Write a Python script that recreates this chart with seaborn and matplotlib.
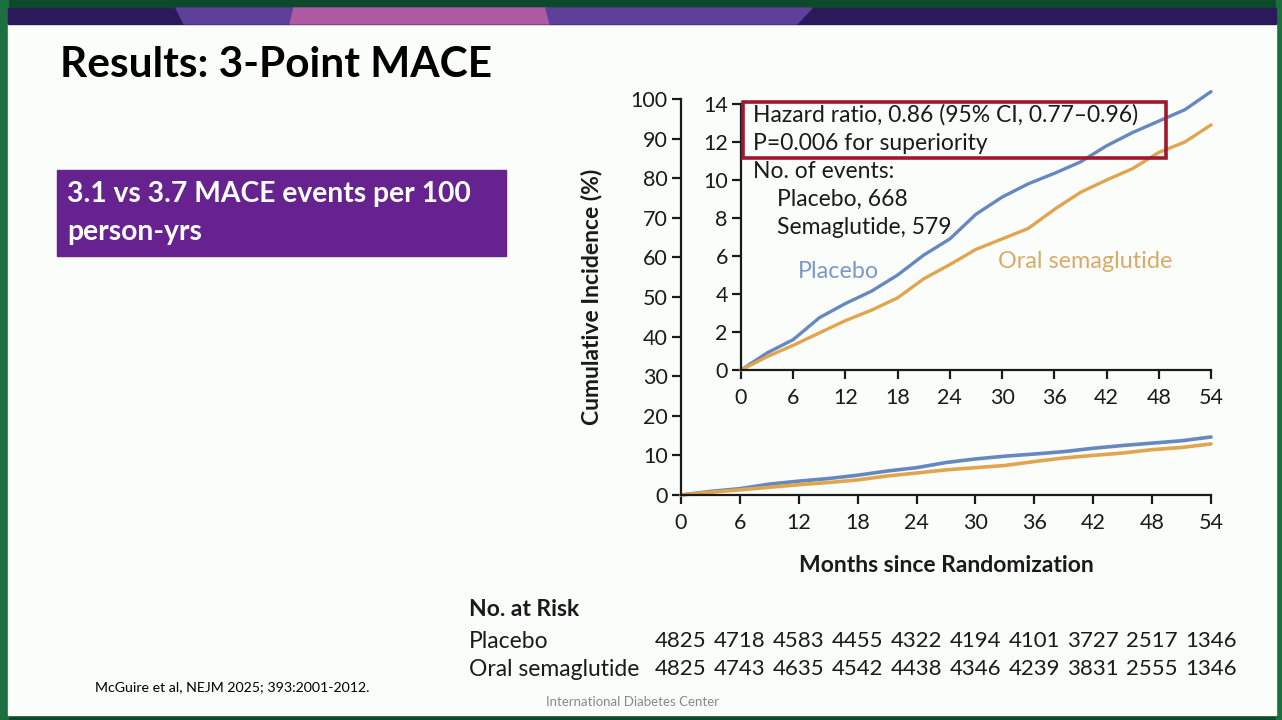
import numpy as np
import pandas as pd
import matplotlib
matplotlib.use("Agg")
import matplotlib.pyplot as plt
import matplotlib.transforms as mtransforms
from matplotlib.patches import Rectangle, Polygon
import seaborn as sns

# ---------------- data ----------------
months = [0, 3, 6, 9, 12, 15, 18, 21, 24, 27, 30, 33, 36, 39, 42, 45, 48, 51, 54]
placebo = [0, 0.9, 1.6, 2.75, 3.5, 4.15, 5.0, 6.05, 6.9, 8.2, 9.1, 9.8, 10.35,
           10.95, 11.8, 12.5, 13.1, 13.7, 14.65]
semaglutide = [0, 0.7, 1.3, 1.95, 2.6, 3.15, 3.8, 4.8, 5.55, 6.35, 6.9, 7.45, 8.45,
               9.35, 10.0, 10.6, 11.45, 12.0, 12.9]
group_names = ["Placebo", "Oral semaglutide"]

risk_months = [0, 6, 12, 18, 24, 30, 36, 42, 48, 54]
risk_placebo = [4825, 4718, 4583, 4455, 4322, 4194, 4101, 3727, 2517, 1346]
risk_sema = [4825, 4743, 4635, 4542, 4438, 4346, 4239, 3831, 2555, 1346]

main_yticks = [0, 10, 20, 30, 40, 50, 60, 70, 80, 90, 100]
inset_yticks = [0, 2, 4, 6, 8, 10, 12, 14]
xticks = [0, 6, 12, 18, 24, 30, 36, 42, 48, 54]

df = pd.DataFrame({
    "month": months + months,
    "value": placebo + semaglutide,
    "group": [group_names[0]] * len(months) + [group_names[1]] * len(months),
})

# ---------------- style ----------------
sns.set_theme(style="ticks")
plt.rcParams["font.family"] = ["Lato", "DejaVu Sans"]

BLUE = "#6688be"
ORANGE = "#e0a54e"
INK = "#1a1a1a"
palette = {group_names[0]: BLUE, group_names[1]: ORANGE}

W, H = 1282, 720
fig = plt.figure(figsize=(W / 100, H / 100), dpi=100, facecolor="#0c4a2b")


def fx(x):
    return x / W


def fy(y):
    return 1 - y / H


def bg_rect(x0, y0, x1, y1, col, z=-5):
    fig.patches.append(Rectangle((fx(x0), fy(y1)), (x1 - x0) / W, (y1 - y0) / H,
                                 transform=fig.transFigure, color=col, zorder=z))


# slide frame
bg_rect(0, 0, 8, 720, "#1c7040")
bg_rect(1276, 0, 1282, 720, "#1c7040")
bg_rect(8, 24, 1276, 715, "#fbfdfb")
bg_rect(8, 8, 1276, 24, "#2a1a5a")
for pts, col in [
    ([(176, 8), (294, 8), (290, 24), (184, 24)], "#5e3f99"),
    ([(294, 8), (546, 8), (550, 24), (290, 24)], "#ae5aa2"),
    ([(546, 8), (812, 8), (797, 24), (550, 24)], "#5e3f99"),
]:
    fig.patches.append(Polygon([(fx(a), fy(b)) for a, b in pts], closed=True,
                               transform=fig.transFigure, color=col, zorder=-4))

# title and left panel
fig.text(fx(60), fy(65), "Results: 3-Point MACE", fontsize=30.5, fontweight="bold",
         color="black", ha="left", va="center")
bg_rect(57, 170, 506, 256, "#66238f", z=-3)
fig.text(fx(67), fy(194), "3.1 vs 3.7 MACE events per 100", fontsize=20.3,
         fontweight="bold", color="white", ha="left", va="center")
fig.text(fx(67), fy(232), "person-yrs", fontsize=20.3, fontweight="bold",
         color="white", ha="left", va="center")
fig.text(fx(95), fy(687), "McGuire et al, NEJM 2025; 393:2001-2012.", fontsize=10.2,
         color="black", ha="left", va="center")
fig.text(fx(633), fy(702), "International Diabetes Center", fontsize=9.5,
         color="#888888", ha="center", va="center")

# ---------------- main axes ----------------
ax = fig.add_axes([fx(681), fy(495), (1211 - 681) / W, (495 - 99) / H])
ax.set_facecolor("none")
sns.lineplot(data=df, x="month", y="value", hue="group", palette=palette,
             estimator=None, legend=False, linewidth=2.6, ax=ax)
for ln in ax.lines:
    ln.set_clip_on(False)
ax.set_xlim(0, 54)
ax.set_ylim(0, 100)
ax.set_xticks(xticks)
ax.set_yticks(main_yticks)
ax.tick_params(axis="both", direction="out", length=6.5, width=1.6, labelsize=15.5,
               colors=INK, pad=3)
ax.tick_params(axis="x", pad=6.5)
for s in ["top", "right"]:
    ax.spines[s].set_visible(False)
for s in ["left", "bottom"]:
    ax.spines[s].set_linewidth(1.6)
    ax.spines[s].set_color(INK)
ax.set_ylabel("Cumulative Incidence (%)", fontsize=16.5, fontweight="bold",
              color=INK, va="center")
ax.yaxis.set_label_coords((592 - 681) / 530, 0.5)
ax.set_xlabel("Months since Randomization", fontsize=16.5, fontweight="bold",
              color=INK, va="center")
ax.xaxis.set_label_coords(0.5, -(565 - 495) / 396)

# ---------------- inset ----------------
ax2 = fig.add_axes([fx(741), fy(370), 470 / W, 266 / H])
ax2.set_facecolor("none")
sns.lineplot(data=df, x="month", y="value", hue="group", palette=palette,
             estimator=None, legend=False, linewidth=2.4, ax=ax2)
for ln in ax2.lines:
    ln.set_clip_on(False)
ax2.set_xlim(0, 54)
ax2.set_ylim(0, 14)
ax2.set_xticks(xticks)
ax2.set_yticks(inset_yticks)
ax2.tick_params(axis="both", direction="out", length=6.5, width=1.6, labelsize=15.5,
                colors=INK, pad=3)
ax2.tick_params(axis="x", pad=6.5)
for s in ["top", "right"]:
    ax2.spines[s].set_visible(False)
for s in ["left", "bottom"]:
    ax2.spines[s].set_linewidth(1.6)
    ax2.spines[s].set_color(INK)
ax2.set_xlabel("")
ax2.set_ylabel("")

# inset annotations
fig.patches.append(Rectangle((fx(743), fy(158)), (1166 - 743) / W, (158 - 102) / H,
                             transform=fig.transFigure, fill=False,
                             edgecolor="#a0182e", linewidth=2.6, zorder=5))
txt_kw = dict(fontsize=16.5, color=INK, ha="left", va="center")
fig.text(fx(753), fy(115), "Hazard ratio, 0.86 (95% CI, 0.77\u20130.96)", **txt_kw)
fig.text(fx(753), fy(143), "P=0.006 for superiority", **txt_kw)
fig.text(fx(753), fy(171), "No. of events:", **txt_kw)
fig.text(fx(777), fy(199), "Placebo, 668", **txt_kw)
fig.text(fx(777), fy(227), "Semaglutide, 579", **txt_kw)
fig.text(fx(798), fy(272), "Placebo", fontsize=16.8, color="#7b98c8", ha="left",
         va="center")
fig.text(fx(998), fy(262), "Oral semaglutide", fontsize=16.8, color="#d9ab68",
         ha="left", va="center")

# ---------------- risk table ----------------
fig.text(fx(469), fy(610), "No. at Risk", fontsize=16.5, fontweight="bold",
         color=INK, ha="left", va="center")
fig.text(fx(469), fy(641), "Placebo", fontsize=16.5, color=INK, ha="left",
         va="center")
fig.text(fx(469), fy(669), "Oral semaglutide", fontsize=16.5, color=INK,
         ha="left", va="center")
trans = mtransforms.blended_transform_factory(ax.transData, fig.transFigure)
for m, a, b in zip(risk_months, risk_placebo, risk_sema):
    ax.text(m, fy(641), str(a), transform=trans, fontsize=16, color=INK,
            ha="center", va="center", clip_on=False)
    ax.text(m, fy(669), str(b), transform=trans, fontsize=16, color=INK,
            ha="center", va="center", clip_on=False)

fig.savefig("out.png", dpi=100, facecolor=fig.get_facecolor())
